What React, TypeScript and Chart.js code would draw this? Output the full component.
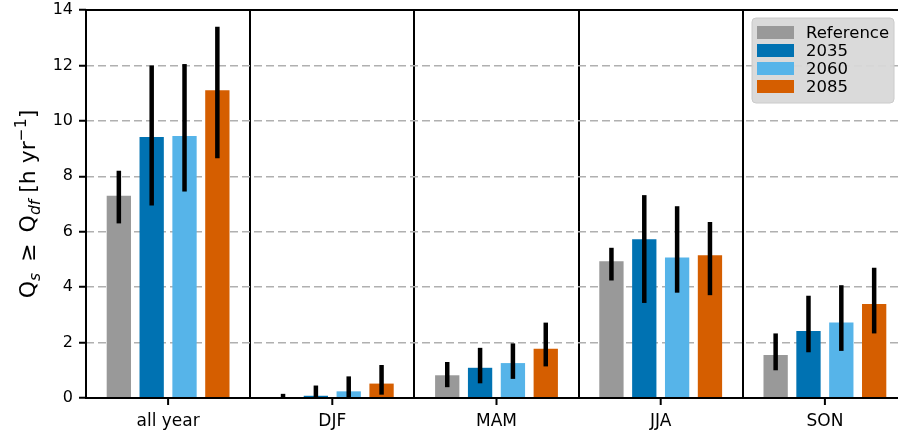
import React, { useEffect, useRef } from "react";
import { Chart, registerables } from "chart.js";

Chart.register(...registerables);

const categories = ["all year", "DJF", "MAM", "JJA", "SON"];
const seriesLabels = ["Reference", "2035", "2060", "2085"];
const seriesColors = ["#999999", "#0072B2", "#56B4E9", "#D55E00"];

const referenceValues = [7.3, 0.03, 0.82, 4.93, 1.55];
const values2035 = [9.42, 0.08, 1.09, 5.73, 2.42];
const values2060 = [9.45, 0.24, 1.26, 5.07, 2.72];
const values2085 = [11.1, 0.52, 1.78, 5.15, 3.39];

const referenceLow = [6.3, 0.02, 0.39, 4.24, 1.0];
const referenceHigh = [8.2, 0.15, 1.3, 5.42, 2.33];
const low2035 = [6.95, 0.0, 0.53, 3.43, 1.65];
const high2035 = [12.0, 0.45, 1.81, 7.32, 3.69];
const low2060 = [7.45, 0.02, 0.69, 3.8, 1.7];
const high2060 = [12.05, 0.78, 1.97, 6.92, 4.07];
const low2085 = [8.65, 0.12, 1.14, 3.71, 2.33];
const high2085 = [13.4, 1.19, 2.72, 6.35, 4.7];

const yTicks = [0, 2, 4, 6, 8, 10, 12, 14];

const FONT = "'DejaVu Sans', sans-serif";

const seriesValues = [referenceValues, values2035, values2060, values2085];
const seriesLow = [referenceLow, low2035, low2060, low2085];
const seriesHigh = [referenceHigh, high2035, high2060, high2085];

const errorBarPlugin = {
  id: "errorBars",
  afterDatasetsDraw(chart: any) {
    const ctx = chart.ctx;
    const yScale = chart.scales.y;
    ctx.save();
    ctx.strokeStyle = "#000";
    ctx.lineWidth = 4.5;
    ctx.lineCap = "butt";
    chart.data.datasets.forEach((_ds: any, d: number) => {
      const meta = chart.getDatasetMeta(d);
      meta.data.forEach((el: any, i: number) => {
        const y1 = yScale.getPixelForValue(seriesLow[d][i]);
        const y2 = yScale.getPixelForValue(seriesHigh[d][i]);
        ctx.beginPath();
        ctx.moveTo(el.x, y1);
        ctx.lineTo(el.x, y2);
        ctx.stroke();
      });
    });
    const a = chart.chartArea;
    ctx.lineWidth = 2;
    ctx.strokeRect(a.left, a.top, a.right - a.left, a.bottom - a.top);
    const xScale = chart.scales.x;
    categories.forEach((_c, i) => {
      const x = xScale.getPixelForValue(i);
      ctx.beginPath();
      ctx.moveTo(x, a.bottom);
      ctx.lineTo(x, a.bottom + 7);
      ctx.stroke();
    });
    ctx.restore();
  },
};

const legendPlugin = {
  id: "customLegend",
  afterDraw(chart: any) {
    const ctx = chart.ctx;
    const bx = 752, by = 18, bw = 142, bh = 85, r = 4;
    ctx.save();
    ctx.beginPath();
    ctx.moveTo(bx + r, by);
    ctx.lineTo(bx + bw - r, by);
    ctx.quadraticCurveTo(bx + bw, by, bx + bw, by + r);
    ctx.lineTo(bx + bw, by + bh - r);
    ctx.quadraticCurveTo(bx + bw, by + bh, bx + bw - r, by + bh);
    ctx.lineTo(bx + r, by + bh);
    ctx.quadraticCurveTo(bx, by + bh, bx, by + bh - r);
    ctx.lineTo(bx, by + r);
    ctx.quadraticCurveTo(bx, by, bx + r, by);
    ctx.closePath();
    ctx.fillStyle = "rgba(216,216,216,0.95)";
    ctx.fill();
    ctx.strokeStyle = "#cacaca";
    ctx.lineWidth = 1;
    ctx.stroke();
    ctx.font = `16.5px ${FONT}`;
    ctx.textBaseline = "middle";
    ctx.textAlign = "left";
    chart.data.datasets.forEach((ds: any, d: number) => {
      const cy = 32.5 + d * 18;
      ctx.fillStyle = ds.backgroundColor;
      ctx.fillRect(757, cy - 6.5, 37, 13);
      ctx.fillStyle = "#000";
      ctx.fillText(ds.label, 806, cy + 1);
    });
    ctx.restore();
  },
};

const titlePlugin = {
  id: "yTitle",
  afterDraw(chart: any) {
    const ctx = chart.ctx;
    const big = 22;
    const small = 15.5;
    type Seg = { t: string; size: number; italic?: boolean; dy: number; gap?: number };
    const segs: Seg[] = [
      { t: "Q", size: big, dy: 0 },
      { t: "s", size: small, italic: true, dy: 5 },
      { t: "", size: big, dy: 0, gap: 11 },
      { t: "≥", size: big, dy: 0 },
      { t: "", size: big, dy: 0, gap: 11 },
      { t: "Q", size: big, dy: 0 },
      { t: "df", size: small, italic: true, dy: 5 },
      { t: " [h yr", size: big, dy: 0 },
      { t: "−1", size: small, dy: -9 },
      { t: "]", size: big, dy: 0 },
    ];
    const fontOf = (s: Seg) => `${s.italic ? "italic " : ""}${s.size}px ${FONT}`;
    ctx.save();
    let total = 0;
    const widths = segs.map((s) => {
      if (s.gap) return s.gap;
      ctx.font = fontOf(s);
      return ctx.measureText(s.t).width;
    });
    widths.forEach((w) => (total += w));
    ctx.translate(27, 204);
    ctx.rotate(-Math.PI / 2);
    ctx.fillStyle = "#000";
    ctx.textBaseline = "alphabetic";
    ctx.textAlign = "left";
    let x = -total / 2;
    segs.forEach((s, i) => {
      if (!s.gap) {
        ctx.font = fontOf(s);
        ctx.fillText(s.t, x, 8 + s.dy);
      }
      x += widths[i];
    });
    ctx.restore();
  },
};

export default function App() {
  const ref = useRef<HTMLCanvasElement | null>(null);
  useEffect(() => {
    if (!ref.current) return;
    const chart = new Chart(ref.current, {
      type: "bar",
      data: {
        labels: categories,
        datasets: seriesLabels.map((label, d) => ({
          label,
          data: seriesValues[d],
          backgroundColor: seriesColors[d],
          borderWidth: 0,
          categoryPercentage: 0.8,
          barPercentage: 0.74,
        })),
      },
      options: {
        animation: false,
        responsive: false,
        layout: { padding: { top: 10, right: 13, left: 0, bottom: 0 } },
        plugins: { legend: { display: false }, tooltip: { enabled: false } },
        scales: {
          x: {
            grid: { color: "#000", lineWidth: 2, drawTicks: false, offset: true },
            border: { display: false },
            ticks: { color: "#000", font: { family: FONT, size: 17 }, padding: 13 },
            afterFit: (s: any) => {
              s.height = 40;
              s.paddingLeft = 0;
              s.paddingRight = 0;
            },
          },
          y: {
            min: 0,
            max: 14,
            afterBuildTicks: (s: any) => {
              s.ticks = yTicks.map((v) => ({ value: v }));
            },
            grid: {
              color: (c: any) =>
                c.tick && (c.tick.value === 0 || c.tick.value === 14) ? "rgba(0,0,0,0)" : "#b0b0b0",
              lineWidth: 1.5,
              tickColor: "#000",
              tickWidth: 2,
              tickLength: 7,
            },
            border: { display: false, dash: [8, 4] },
            ticks: { color: "#000", font: { family: FONT, size: 16 }, padding: 6 },
            afterFit: (s: any) => {
              s.width = 86;
              s.paddingTop = 0;
              s.paddingBottom = 0;
            },
          },
        },
      },
      plugins: [errorBarPlugin, legendPlugin, titlePlugin],
    } as any);
    return () => chart.destroy();
  }, []);
  return (
    <div style={{ position: "absolute", left: 0, top: 0, width: 898, height: 438, overflow: "hidden", background: "#fff" }}>
      <canvas ref={ref} width={920} height={438} style={{ width: 920, height: 438 }} />
    </div>
  );
}
